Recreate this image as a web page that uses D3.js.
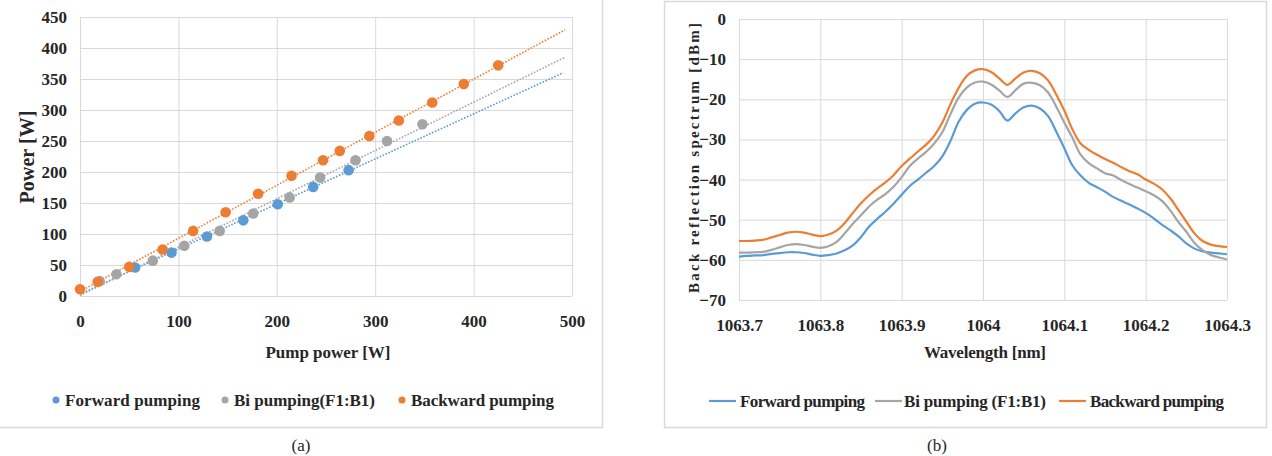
<!DOCTYPE html>
<html>
<head>
<meta charset="utf-8">
<script src="https://cdnjs.cloudflare.com/ajax/libs/d3/7.8.5/d3.min.js"></script>
</head>
<body style="margin:0; background:#fff">
<svg width="1272" height="456"></svg>
<script>
var width = 1272,
    height = 456

var FONT = "Liberation Serif"
var TEXT_COLOR = "#262626"
var COLORS = ["#5b9bd5", "#a5a5a5", "#ed7d31"]
var SERIES_NAMES_A = ["Forward pumping", "Bi pumping(F1:B1)", "Backward pumping"]
var SERIES_NAMES_B = ["Forward pumping", "Bi pumping (F1:B1)", "Backward pumping"]

// (a) output power vs pump power
var forwardPump = [56, 93, 129, 166, 201, 237, 273]
var forwardPower = [46, 70, 96, 122, 148, 176, 203]
var biPump = [20, 37, 74, 106, 142, 176, 213, 244, 280, 312, 348]
var biPower = [24, 35, 57, 81, 105, 133, 159, 191, 219, 250, 277]
var backwardPump = [0, 18, 50, 84, 115, 148, 181, 215, 247, 264, 294, 324, 358, 390, 425]
var backwardPower = [11, 23, 47, 75, 105, 135, 165, 194, 219, 234, 258, 283, 312, 342, 372]
var xTicksA = [0, 100, 200, 300, 400, 500]
var yTicksA = [0, 50, 100, 150, 200, 250, 300, 350, 400, 450]

// (b) back reflection spectrum
var wavelength = [1063.70, 1063.71, 1063.72, 1063.73, 1063.74, 1063.75, 1063.76, 1063.77, 1063.78, 1063.79,
    1063.80, 1063.81, 1063.82, 1063.83, 1063.84, 1063.85, 1063.86, 1063.87, 1063.88, 1063.89,
    1063.90, 1063.91, 1063.92, 1063.93, 1063.94, 1063.95, 1063.96, 1063.97, 1063.98, 1063.99,
    1064.00, 1064.01, 1064.02, 1064.03, 1064.04, 1064.05, 1064.06, 1064.07, 1064.08, 1064.09,
    1064.10, 1064.11, 1064.12, 1064.13, 1064.14, 1064.15, 1064.16, 1064.17, 1064.18, 1064.19,
    1064.20, 1064.21, 1064.22, 1064.23, 1064.24, 1064.25, 1064.26, 1064.27, 1064.28, 1064.29, 1064.30]
var forwardSpectrum = [-59.2, -59.0, -58.9, -58.8, -58.5, -58.3, -58.1, -58.1, -58.3, -58.7,
    -59.0, -58.8, -58.4, -57.6, -56.4, -54.3, -51.7, -49.8, -48.0, -46.0,
    -43.8, -41.6, -40.0, -38.3, -36.6, -34.2, -30.4, -25.6, -22.7, -21.1,
    -20.8, -21.3, -22.9, -25.3, -23.5, -22.0, -21.6, -22.3, -24.2, -28.0,
    -32.2, -36.5, -39.0, -40.8, -41.9, -43.0, -44.3, -45.3, -46.2, -47.2,
    -48.3, -49.7, -51.2, -52.6, -54.1, -55.9, -57.2, -57.9, -58.2, -58.4, -58.6]
var biSpectrum = [-58.2, -58.2, -58.1, -58.0, -57.5, -56.9, -56.3, -56.1, -56.3, -56.7,
    -57.0, -56.6, -55.5, -53.4, -51.0, -48.9, -46.7, -45.0, -43.6, -41.8,
    -39.4, -36.6, -34.8, -33.1, -31.0, -28.2, -23.7, -19.6, -17.1, -15.8,
    -15.6, -16.3, -17.8, -19.4, -17.7, -16.1, -15.9, -16.5, -18.3, -21.8,
    -25.8, -29.6, -33.8, -35.9, -37.2, -38.4, -39.0, -40.1, -41.1, -42.0,
    -42.9, -43.9, -45.3, -47.6, -50.5, -53.0, -55.8, -57.6, -58.8, -59.4, -59.9]
var backwardSpectrum = [-55.3, -55.3, -55.2, -55.0, -54.4, -53.8, -53.2, -53.0, -53.2, -53.7,
    -54.1, -53.7, -52.7, -50.8, -48.3, -45.9, -43.9, -42.2, -40.7, -38.9,
    -36.6, -34.8, -33.0, -31.3, -29.1, -25.8, -21.2, -17.2, -14.2, -12.8,
    -12.5, -13.2, -14.8, -16.4, -14.8, -13.3, -12.9, -13.5, -15.3, -18.8,
    -22.8, -27.5, -31.0, -32.6, -33.8, -34.9, -35.8, -36.9, -37.9, -38.7,
    -40.0, -41.0, -42.4, -44.6, -47.5, -50.5, -53.4, -55.3, -56.2, -56.6, -56.8]
var xTicksB = [1063.7, 1063.8, 1063.9, 1064, 1064.1, 1064.2, 1064.3]
var yTicksB = [0, -10, -20, -30, -40, -50, -60, -70]

var svg = d3.select("svg")

function label(x, y, size, str) {
    return svg.append("text")
        .attr("x", x).attr("y", y)
        .attr("font-family", FONT)
        .attr("font-weight", "bold")
        .attr("font-size", size)
        .attr("fill", TEXT_COLOR)
        .text(str)
}

function drawPanel(x0, y0, x1, y1) {
    svg.append("rect")
        .attr("x", x0 + 0.5).attr("y", y0 + 0.5)
        .attr("width", x1 - x0).attr("height", y1 - y0)
        .attr("fill", "#fff")
        .attr("stroke", "#d9d9d9")
        .attr("stroke-width", 1.5)
}

function styleTicks(sel) {
    sel.attr("font-family", FONT).attr("font-size", 17).attr("font-weight", "bold")
    sel.select(".domain").remove()
    sel.selectAll("text").attr("fill", TEXT_COLOR)
}

function drawGrid(xScale, yScale, xTicks, yTicks, fmtX, fmtY) {
    var g = svg.append("g")
    var [left, right] = xScale.range()
    var [bottom, top] = yScale.range()

    g.append("g")
        .attr("transform", "translate(0," + bottom + ")")
        .call(d3.axisBottom(xScale).tickValues(xTicks).tickSize(-(bottom - top)).tickFormat(""))
        .call(s => s.select(".domain").remove())
        .selectAll("line").attr("stroke", "#d9d9d9")
    g.append("g")
        .attr("transform", "translate(" + left + ",0)")
        .call(d3.axisLeft(yScale).tickValues(yTicks).tickSize(-(right - left)).tickFormat(""))
        .call(s => s.select(".domain").remove())
        .selectAll("line").attr("stroke", "#d9d9d9")

    // tick labels
    var xl = svg.append("g")
        .attr("transform", "translate(0," + (bottom + 19) + ")")
        .call(d3.axisBottom(xScale).tickValues(xTicks).tickSize(0).tickFormat(fmtX))
        .call(styleTicks)
    xl.selectAll("text").attr("dy", "0.71em").attr("y", 0)

    var yl = svg.append("g")
        .attr("transform", "translate(" + (left - 13) + ",0)")
        .call(d3.axisLeft(yScale).tickValues(yTicks).tickSize(0).tickFormat(fmtY))
        .call(styleTicks)
    yl.selectAll("text").attr("x", 0)
}

function linearFit(xs, ys) {
    var mx = d3.mean(xs), my = d3.mean(ys)
    var num = d3.sum(xs, (x, i) => (x - mx) * (ys[i] - my))
    var den = d3.sum(xs, x => (x - mx) * (x - mx))
    var slope = num / den
    return [slope, my - slope * mx]
}

function drawChartA() {
    drawPanel(-2, -2, 602, 427)
    var xScale = d3.scaleLinear().domain([0, 500]).range([80, 572])
    var yScale = d3.scaleLinear().domain([0, 450]).range([296, 17])
    drawGrid(xScale, yScale, xTicksA, yTicksA, d3.format("d"), d3.format("d"))

    var series = [
        [forwardPump, forwardPower, 491],
        [biPump, biPower, 493],
        [backwardPump, backwardPower, 493]
    ]

    // dotted linear trendlines
    series.forEach(function(s, i) {
        var [slope, icpt] = linearFit(s[0], s[1])
        svg.append("line")
            .attr("x1", xScale(0)).attr("y1", yScale(icpt))
            .attr("x2", xScale(s[2])).attr("y2", yScale(slope * s[2] + icpt))
            .attr("stroke", COLORS[i])
            .attr("stroke-width", 1.6)
            .attr("stroke-dasharray", "1.6,1.6")
    })

    series.forEach(function(s, i) {
        svg.append("g").selectAll("circle")
            .data(s[0].map((x, j) => [x, s[1][j]]))
            .enter()
            .append("circle")
            .attr("cx", d => xScale(d[0]))
            .attr("cy", d => yScale(d[1]))
            .attr("r", 5.3)
            .attr("fill", COLORS[i])
    })

    label(328, 358, 17, "Pump power [W]")
        .attr("text-anchor", "middle")
        .attr("textLength", 125)
    label(0, 0, 20, "Power [W]")
        .attr("transform", "translate(34,157) rotate(-90)")
        .attr("text-anchor", "middle")
        .attr("textLength", 93)

    // legend
    var lx = [56, 225, 402]
    var lw = [135, 141, 143]
    SERIES_NAMES_A.forEach(function(name, i) {
        svg.append("circle").attr("cx", lx[i]).attr("cy", 400).attr("r", 3.5).attr("fill", COLORS[i])
        label(lx[i] + 9, 406, 17, name).attr("textLength", lw[i])
    })

    label(301, 451, 17, "(a)").attr("text-anchor", "middle").attr("font-weight", "normal")
}

function drawChartB() {
    drawPanel(664, 1, 1266, 427)
    var xScale = d3.scaleLinear().domain([1063.7, 1064.3]).range([739, 1227])
    var yScale = d3.scaleLinear().domain([-70, 0]).range([300, 19])
    drawGrid(xScale, yScale, xTicksB, yTicksB, d => String(+d.toFixed(1)), d3.format("d"))

    var line = d3.line()
        .x(d => xScale(d[0]))
        .y(d => yScale(d[1]))
        .curve(d3.curveCatmullRom)

    ;[forwardSpectrum, biSpectrum, backwardSpectrum].forEach(function(vals, i) {
        svg.append("path")
            .datum(wavelength.map((w, j) => [w, vals[j]]))
            .attr("d", line)
            .attr("fill", "none")
            .attr("stroke", COLORS[i])
            .attr("stroke-width", 2.2)
    })

    label(985, 358, 17, "Wavelength [nm]")
        .attr("text-anchor", "middle")
        .attr("textLength", 122)
    label(0, 0, 15, "Back reflection spectrum [dBm]")
        .attr("transform", "translate(699,158) rotate(-90)")
        .attr("text-anchor", "middle")
        .attr("textLength", 270)
        .attr("lengthAdjust", "spacing")

    var lx = [709, 875, 1059]
    var tx = [740, 904, 1090]
    var lw = [125, 142, 134]
    SERIES_NAMES_B.forEach(function(name, i) {
        svg.append("line").attr("x1", lx[i]).attr("x2", lx[i] + 27).attr("y1", 401).attr("y2", 401)
            .attr("stroke", COLORS[i]).attr("stroke-width", 2.2)
        label(tx[i], 407, 17, name).attr("textLength", lw[i])
    })

    label(937, 451, 17, "(b)").attr("text-anchor", "middle").attr("font-weight", "normal")
}

drawChartA()
drawChartB()
</script>
</body>
</html>
